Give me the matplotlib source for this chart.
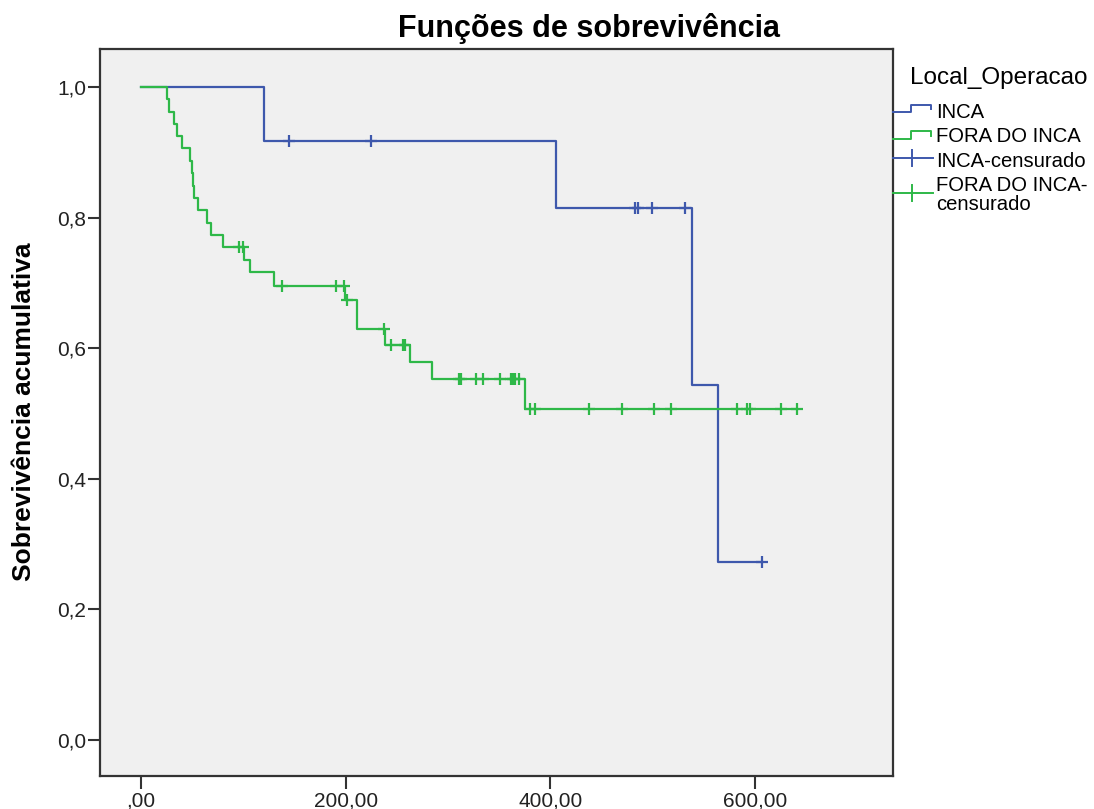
import numpy as np
import matplotlib.pyplot as plt
from matplotlib.lines import Line2D

plt.rcParams['font.family'] = ['Liberation Sans', 'DejaVu Sans']

# INCA group: step times and survival after each step
inca_times = [0, 120, 405.5, 539, 564]
inca_surv = [1.0, 0.917, 0.815, 0.543, 0.272]
inca_cens = [145, 225, 483, 485.5, 499, 531.5, 607]

# FORA DO INCA group
fora_times = [0, 25, 27, 32.6, 35, 40.4, 48, 49.5, 50.8, 51.5, 55.4, 64.8,
              68.7, 79.8, 101, 107, 130, 199.3, 210.7, 238.4, 262.8, 284, 375]
fora_surv = [1.0, 0.981, 0.962, 0.943, 0.925, 0.906, 0.887, 0.868, 0.849,
             0.830, 0.811, 0.792, 0.774, 0.755, 0.735, 0.716, 0.695, 0.674,
             0.629, 0.605, 0.579, 0.553, 0.507]
fora_cens = [95.4, 100, 137.4, 191, 198.3, 201.6, 237.4, 244.6, 255.7, 258.3,
             311, 313, 327, 334, 351.4, 362, 364, 366, 369.3,
             380.7, 385.6, 437.7, 470.3, 501.5, 517.8, 582.5, 592.4, 595,
             626, 641]

xticks = [0, 200, 400, 600]
xtick_labels = [',00', '200,00', '400,00', '600,00']
yticks = [0.0, 0.2, 0.4, 0.6, 0.8, 1.0]
ytick_labels = ['0,0', '0,2', '0,4', '0,6', '0,8', '1,0']

blue = '#3E58AC'
green = '#2EB848'

W, H = 1094, 809
fig = plt.figure(figsize=(W / 100, H / 100), dpi=100)
ax = fig.add_axes([100 / W, 1 - 776 / H, 793 / W, 727 / H])
ax.set_facecolor('#F0F0F0')


def curve(times, surv, cens):
    t = list(times) + [max(cens)]
    s = list(surv) + [surv[-1]]
    idx = np.searchsorted(times, cens, side='right') - 1
    cy = np.array(surv)[idx]
    return t, s, cy


t, s, cy = curve(inca_times, inca_surv, inca_cens)
ax.step(t, s, where='post', color=blue, lw=1.6, zorder=3)
ax.plot(inca_cens, cy, ls='none', marker='+', ms=9, mew=1.6, color=blue, zorder=4)

t, s, cy = curve(fora_times, fora_surv, fora_cens)
ax.step(t, s, where='post', color=green, lw=1.6, zorder=3)
ax.plot(fora_cens, cy, ls='none', marker='+', ms=9, mew=1.6, color=green, zorder=4)

ax.set_xlim(-40, 735)
ax.set_ylim(-0.055, 1.058)
ax.set_xticks(xticks)
ax.set_xticklabels(xtick_labels)
ax.set_yticks(yticks)
ax.set_yticklabels(ytick_labels)
ax.tick_params(axis='both', direction='out', length=9, width=1.5,
               color='#333333', labelsize=15, labelcolor='#222222')
ax.tick_params(axis='x', pad=2)
ax.tick_params(axis='y', pad=1)
for sp in ax.spines.values():
    sp.set_color('#333333')
    sp.set_linewidth(1.6)

fig.text(589 / W, 1 - 37 / H, 'Funções de sobrevivência', ha='center',
         va='baseline', fontsize=22, fontweight='bold')
fig.text(24 / W, 1 - 412 / H, 'Sobrevivência acumulativa', rotation=90,
         ha='center', va='center', fontsize=19, fontweight='bold')


# legend drawn by hand in pixel positions
def fx(x):
    return x / W


def fy(y):
    return 1 - y / H


fig.text(fx(910), fy(84), 'Local_Operacao', fontsize=17.5, va='baseline')
for col, lo, hi in [(blue, 112, 104.5), (green, 139, 131)]:
    fig.add_artist(Line2D([fx(893), fx(911), fx(911), fx(931), fx(931)],
                          [fy(lo), fy(lo), fy(hi), fy(hi), fy(lo - 3)],
                          color=col, lw=1.4))
for col, yc in [(blue, 158), (green, 193)]:
    fig.add_artist(Line2D([fx(893), fx(933)], [fy(yc), fy(yc)], color=col, lw=1.4))
    fig.add_artist(Line2D([fx(912), fx(912)], [fy(yc - 8), fy(yc + 8)], color=col, lw=1.4))

legend_texts = [('INCA', 118), ('FORA DO INCA', 142.5), ('INCA-censurado', 166.7),
                ('FORA DO INCA-', 191), ('censurado', 210)]
for txt, yb in legend_texts:
    fig.text(fx(936), fy(yb), txt, fontsize=14.6, va='baseline')

fig.savefig('out.png', dpi=100)
